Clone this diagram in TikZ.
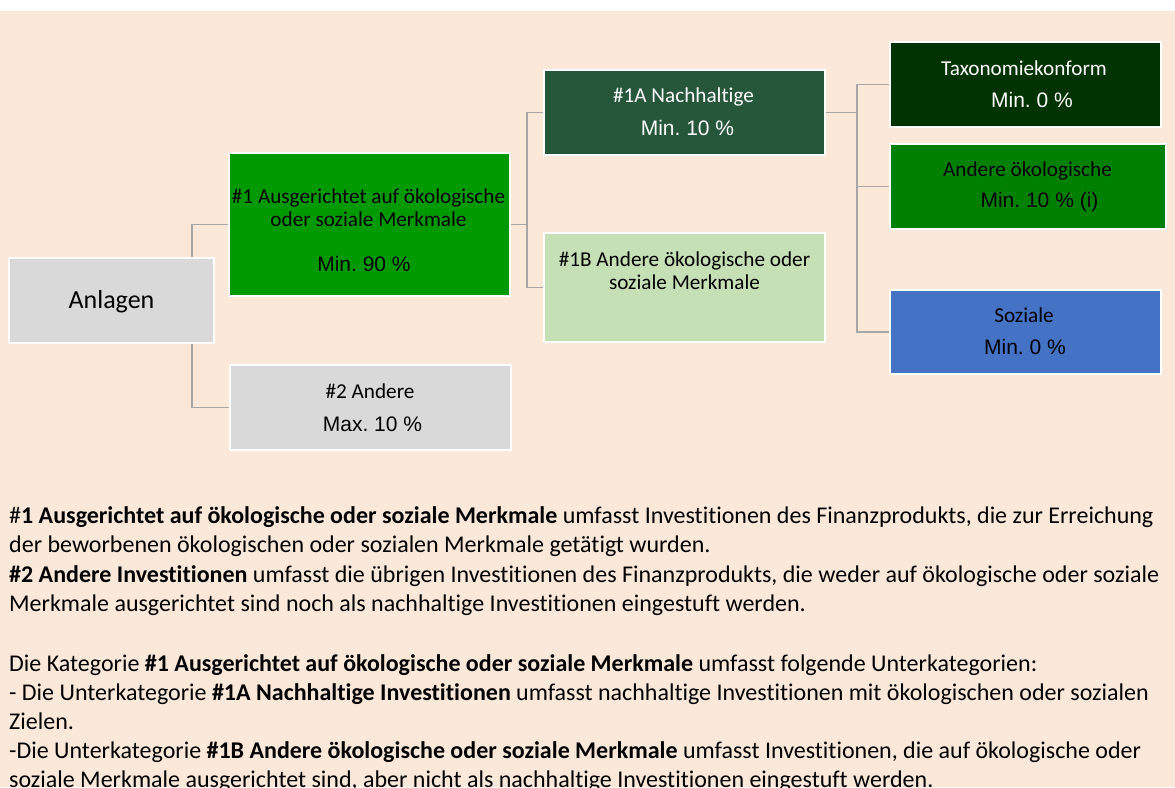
\documentclass[tikz,border=0pt]{standalone}
\usepackage{fontspec}
\setmainfont{Carlito}[Ligatures=NoCommon]
\newfontfamily\arialf{Liberation Sans}
\definecolor{bgBeige}{RGB}{251,232,216}
\definecolor{boxGray}{RGB}{217,217,217}
\definecolor{greenOne}{RGB}{0,153,0}
\definecolor{greenA}{RGB}{38,87,59}
\definecolor{greenB}{RGB}{197,224,180}
\definecolor{greenTax}{RGB}{0,51,0}
\definecolor{greenOek}{RGB}{0,128,0}
\definecolor{blueSoz}{RGB}{68,114,196}
\definecolor{lineGray}{RGB}{166,166,166}
\tikzset{
  box/.style={draw=white, line width=2pt, inner sep=0pt},
  conn/.style={draw=lineGray, line width=1.2pt},
  lbl/.style={anchor=base, inner sep=0pt, font=\fontsize{21.2}{25}\selectfont},
  pct/.style={anchor=base, inner sep=0pt, font=\arialf\fontsize{21}{25}\selectfont},
  body/.style={anchor=base west, inner sep=0pt, font=\fontsize{24}{29}\selectfont},
}
\frenchspacing
\begin{document}
\frenchspacing
\begin{tikzpicture}[x=1pt,y=-1pt]
\useasboundingbox (0,0) rectangle (1175,787);
\fill[white] (0,0) rectangle (1175,787);
\fill[bgBeige] (0,11) rectangle (1175,787);

% boxes
\node[box, fill=boxGray, minimum width=205, minimum height=85] (anl) at (111.5,300.5) {};
\node[box, fill=greenOne, minimum width=281, minimum height=143] (b1) at (369.5,224.5) {};
\node[box, fill=boxGray, minimum width=281, minimum height=85] (b2) at (370.5,407.5) {};
\node[box, fill=greenA, minimum width=281, minimum height=85] (b1a) at (684.5,112.5) {};
\node[box, fill=greenB, minimum width=281, minimum height=109] (b1b) at (684.5,287.5) {};
\node[box, fill=greenTax, minimum width=271, minimum height=85] (tax) at (1025.5,84.5) {};
\node[box, fill=greenOek, minimum width=276, minimum height=85] (oek) at (1028,186.5) {};
\node[box, fill=blueSoz, minimum width=271, minimum height=84] (soz) at (1025.5,332) {};

% connector columns
\coordinate (c1) at (192,0);
\coordinate (c2) at (527,0);
\coordinate (c3) at (857,0);

\draw[conn] (anl.north -| c1) |- (b1.west);
\draw[conn] (anl.south -| c1) |- (b2.west);
\draw[conn] (b1.east) -- (b1.east -| c2);
\draw[conn] (b1a.west) -- (b1a.west -| c2) -- (b1b.west -| c2) -- (b1b.west);
\draw[conn] (b1a.east) -- (b1a.east -| c3);
\draw[conn] (tax.west) -- (tax.west -| c3) -- (soz.west -| c3) -- (soz.west);
\draw[conn] (oek.west) -- (oek.west -| c3);

% box texts
\node[anchor=base, inner sep=0pt, font=\fontsize{26}{30}\selectfont] (tAnl) at (111.5,308) {Anlagen};
\node[lbl] (tB1a) at (368.5,203) {\#1 Ausgerichtet auf ökologische};
\node[lbl] (tB1b) at (368.5,226) {oder soziale Merkmale};
\node[pct] (tB1c) at (364,271) {Min. 90 \%};
\node[lbl] (tB2a) at (370,398) {\#2 Andere};
\node[pct] (tB2b) at (372.5,431) {Max. 10 \%};
\node[lbl, text=white] (tAa) at (683.5,102) {\#1A Nachhaltige};
\node[pct, text=white] (tAb) at (687.5,135) {Min. 10 \%};
\node[lbl] (tBa) at (684.5,266) {\#1B Andere ökologische oder};
\node[lbl] (tBb) at (684.5,289) {soziale Merkmale};
\node[lbl, text=white] (tTa) at (1024,75) {Taxonomiekonform};
\node[pct, text=white] (tTb) at (1032,107) {Min. 0 \%};
\node[lbl] (tOa) at (1027.5,176) {Andere ökologische};
\node[pct] (tOb) at (1039.5,207) {Min. 10 \% (i)};
\node[lbl] (tSa) at (1024,322) {Soziale};
\node[pct] (tSb) at (1025,354) {Min. 0 \%};

% body text
\node[body] (l1) at (9,523) {\#\textbf{1 Ausgerichtet auf ökologische oder soziale Merkmale} umfasst Investitionen des Finanzprodukts, die zur Erreichung};
\node[body] (l2) at (9,552) {der beworbenen ökologischen oder sozialen Merkmale getätigt wurden.};
\node[body] (l3) at (9,582) {\textbf{\#2 Andere Investitionen} umfasst die übrigen Investitionen des Finanzprodukts, die weder auf ökologische oder soziale};
\node[body] (l4) at (9,611) {Merkmale ausgerichtet sind noch als nachhaltige Investitionen eingestuft werden.};
\node[body] (l5) at (9,671) {Die Kategorie \textbf{\#1 Ausgerichtet auf ökologische oder soziale Merkmale} umfasst folgende Unterkategorien:};
\node[body] (l6) at (9,700) {- Die Unterkategorie \textbf{\#1A Nachhaltige Investitionen} umfasst nachhaltige Investitionen mit ökologischen oder sozialen};
\node[body] (l7) at (9,729) {Zielen.};
\node[body] (l8) at (9,758) {-Die Unterkategorie \textbf{\#1B Andere ökologische oder soziale Merkmale} umfasst Investitionen, die auf ökologische oder};
\node[body] (l9) at (9,787) {soziale Merkmale ausgerichtet sind, aber nicht als nachhaltige Investitionen eingestuft werden.};
\end{tikzpicture}
\end{document}
